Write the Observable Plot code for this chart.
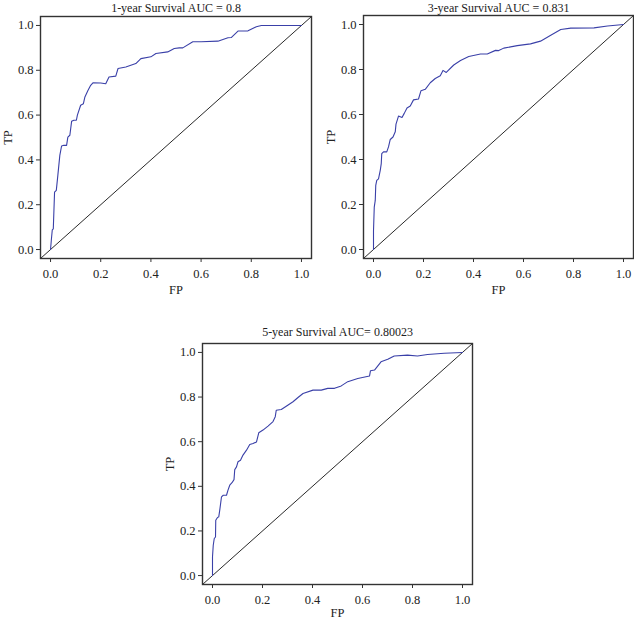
<!DOCTYPE html>
<html>
<head>
<meta charset="utf-8">
<script src="https://cdn.jsdelivr.net/npm/d3@7"></script>
<script src="https://cdn.jsdelivr.net/npm/@observablehq/plot@0.6"></script>
<style>
  html, body { margin: 0; padding: 0; background: #fff; }
  #wrap { position: relative; width: 634px; height: 620px; background: #fff; overflow: hidden; }
  .panel { position: absolute; }
  .panel svg { display: block; }
</style>
</head>
<body>
<div id="wrap"></div>
<script>
// ---- Data ----
const titles = ["1-year Survival AUC = 0.8", "3-year Survival AUC = 0.831", "5-year Survival AUC= 0.80023"];
const tickValues = [0, 0.2, 0.4, 0.6, 0.8, 1.0];
const axisDomain = [-0.04, 1.04];

// 1-year ROC curve
const fp1 = [0, 0.003, 0.007, 0.011, 0.016, 0.023, 0.029, 0.037, 0.044, 0.053, 0.064, 0.069, 0.077, 0.084, 0.093, 0.103, 0.107, 0.12, 0.131, 0.137, 0.149, 0.16, 0.169, 0.2, 0.22, 0.233, 0.26, 0.269, 0.3, 0.34, 0.36, 0.4, 0.42, 0.467, 0.493, 0.513, 0.527, 0.567, 0.6, 0.667, 0.707, 0.72, 0.747, 0.787, 0.82, 0.84, 0.9, 1.0];
const tp1 = [0, 0.04, 0.088, 0.092, 0.256, 0.264, 0.33, 0.42, 0.462, 0.465, 0.465, 0.502, 0.51, 0.572, 0.577, 0.577, 0.6, 0.644, 0.651, 0.681, 0.71, 0.733, 0.744, 0.743, 0.74, 0.77, 0.774, 0.808, 0.815, 0.83, 0.852, 0.86, 0.875, 0.882, 0.897, 0.9, 0.9, 0.927, 0.927, 0.93, 0.945, 0.946, 0.975, 0.976, 0.994, 1.0, 1.0, 1.0];

// 3-year ROC curve
const fp2 = [0, 0, 0.003, 0.007, 0.009, 0.013, 0.02, 0.027, 0.031, 0.033, 0.04, 0.053, 0.06, 0.067, 0.078, 0.087, 0.09, 0.1, 0.114, 0.123, 0.134, 0.147, 0.16, 0.18, 0.19, 0.207, 0.227, 0.247, 0.267, 0.278, 0.291, 0.321, 0.348, 0.381, 0.428, 0.455, 0.488, 0.501, 0.521, 0.575, 0.628, 0.668, 0.709, 0.749, 0.789, 0.882, 0.936, 1.0];
const tp2 = [0, 0.083, 0.188, 0.218, 0.285, 0.307, 0.314, 0.352, 0.382, 0.426, 0.434, 0.434, 0.456, 0.489, 0.5, 0.523, 0.557, 0.593, 0.587, 0.605, 0.629, 0.638, 0.665, 0.669, 0.706, 0.712, 0.741, 0.76, 0.772, 0.796, 0.787, 0.82, 0.84, 0.858, 0.869, 0.869, 0.885, 0.884, 0.895, 0.906, 0.914, 0.926, 0.952, 0.978, 0.984, 0.985, 0.993, 1.0];

// 5-year ROC curve
const fp3 = [0, 0, 0.003, 0.007, 0.012, 0.013, 0.02, 0.025, 0.029, 0.036, 0.043, 0.056, 0.062, 0.069, 0.078, 0.086, 0.089, 0.096, 0.102, 0.112, 0.122, 0.136, 0.149, 0.162, 0.176, 0.185, 0.202, 0.222, 0.242, 0.251, 0.255, 0.275, 0.295, 0.322, 0.342, 0.362, 0.402, 0.435, 0.461, 0.488, 0.515, 0.541, 0.581, 0.628, 0.632, 0.648, 0.674, 0.701, 0.727, 0.78, 0.82, 0.86, 0.927, 1.0];
const tp3 = [0, 0.084, 0.136, 0.166, 0.173, 0.248, 0.26, 0.263, 0.293, 0.353, 0.36, 0.36, 0.383, 0.405, 0.416, 0.43, 0.475, 0.487, 0.51, 0.517, 0.54, 0.562, 0.587, 0.592, 0.599, 0.64, 0.652, 0.67, 0.69, 0.712, 0.741, 0.744, 0.759, 0.779, 0.798, 0.816, 0.831, 0.831, 0.839, 0.839, 0.85, 0.869, 0.883, 0.894, 0.918, 0.921, 0.958, 0.969, 0.984, 0.988, 0.984, 0.991, 0.996, 1.0];

const series = [
  {fp: fp1, tp: tp1},
  {fp: fp2, tp: tp2},
  {fp: fp3, tp: tp3}
];

// ---- Layout of the three panels ----
const panels = [
  {left: 0,   top: 0,   width: 317, height: 300, mL: 40, mR: 6, mT: 16, mB: 42, titleDy: -8.5, fpDy: 31},
  {left: 317, top: 0,   width: 317, height: 300, mL: 46, mR: 1, mT: 15, mB: 42, titleDy: -7.5, fpDy: 31},
  {left: 160, top: 300, width: 320, height: 320, mL: 42, mR: 8, mT: 43, mB: 36, titleDy: -11, fpDy: 28}
];

const FONT = "'Liberation Serif', 'DejaVu Serif', serif";
const wrap = document.getElementById("wrap");

panels.forEach((p, i) => {
  const s = series[i];
  const pts = s.fp.map((x, j) => ({x, y: s.tp[j]}));
  const diag = axisDomain.map(v => ({x: v, y: v}));
  const chart = Plot.plot({
    width: p.width,
    height: p.height,
    marginLeft: p.mL,
    marginRight: p.mR,
    marginTop: p.mT,
    marginBottom: p.mB,
    style: {fontFamily: FONT, fontSize: "12px", color: "#222", background: "#fff"},
    x: {domain: axisDomain},
    y: {domain: axisDomain},
    marks: [
      Plot.line(diag, {x: "x", y: "y", stroke: "#111", strokeWidth: 0.9, clip: true}),
      Plot.line(pts, {x: "x", y: "y", stroke: "#3a40a8", strokeWidth: 1.1, clip: true}),
      Plot.frame({stroke: "#333", strokeWidth: 1.4}),
      Plot.axisX({ticks: tickValues, tickFormat: d3.format(".1f"), tickSize: 4, tickPadding: 7, label: null, stroke: "#333", fill: "#222", fontSize: 12.5}),
      Plot.axisY({ticks: tickValues, tickFormat: d3.format(".1f"), tickSize: 4, tickPadding: 3, label: null, stroke: "#333", fill: "#222", fontSize: 12.5}),
      Plot.text(["FP"], {frameAnchor: "bottom", dy: p.fpDy, lineAnchor: "middle", textAnchor: "middle", fill: "#222", fontSize: 12.5}),
      Plot.text(["TP"], {frameAnchor: "left", dx: -33, rotate: -90, lineAnchor: "middle", textAnchor: "middle", fill: "#222", fontSize: 12.5}),
      Plot.text([titles[i]], {frameAnchor: "top", dy: p.titleDy, lineAnchor: "middle", textAnchor: "middle", fill: "#222", fontSize: 12})
    ]
  });
  const div = document.createElement("div");
  div.className = "panel";
  div.style.left = p.left + "px";
  div.style.top = p.top + "px";
  div.appendChild(chart);
  wrap.appendChild(div);
});
</script>
</body>
</html>
